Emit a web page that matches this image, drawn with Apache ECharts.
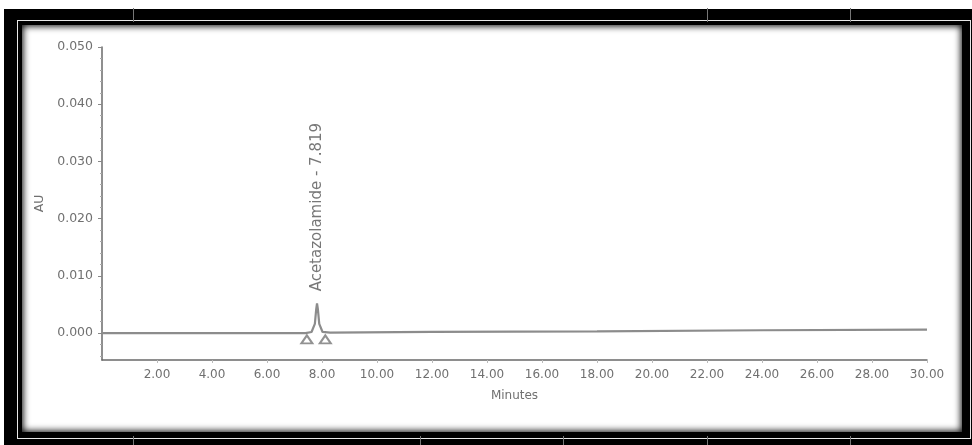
<!DOCTYPE html>
<html>
<head>
<meta charset="utf-8">
<script src="https://cdn.jsdelivr.net/npm/echarts@6/dist/echarts.min.js"></script>
<style>
  html, body { margin: 0; padding: 0; background: #fff; }
  #wrap { position: relative; width: 972px; height: 445px; overflow: hidden; }
  .outer { position: absolute; left: 4px; top: 9px; width: 968px; height: 436px; background: #000; }
  .wline { position: absolute; left: 17px; top: 20px; width: 954px; height: 419px; box-sizing: border-box; border: 1px solid #e8e8e8; }
  .panel { position: absolute; left: 22px; top: 25px; width: 940px; height: 407px; background: #fff;
           box-shadow: inset 0 0 7px 1px #000; }
  .vl { position: absolute; width: 1px; background: #777; }
  #chart { position: absolute; left: 0; top: 0; width: 972px; height: 445px; }
</style>
</head>
<body>
<div id="wrap">
  <div class="outer"></div>
  <div class="wline"></div>
  <div class="panel"></div>
  <div class="vl" style="left:133px;top:8px;height:14px"></div>
  <div class="vl" style="left:707px;top:8px;height:14px"></div>
  <div class="vl" style="left:850px;top:8px;height:14px"></div>
  <div class="vl" style="left:133px;top:436px;height:9px"></div>
  <div class="vl" style="left:420px;top:436px;height:9px"></div>
  <div class="vl" style="left:563px;top:436px;height:9px"></div>
  <div class="vl" style="left:707px;top:436px;height:9px"></div>
  <div class="vl" style="left:850px;top:436px;height:9px"></div>
  <div id="chart"></div>
</div>
<script>
// ---- data ----
var traceMinutes = [0, 3, 7.4, 7.62, 7.74, 7.79, 7.819, 7.85, 7.9, 8.02, 8.3, 12, 18, 24, 30];
var traceAU      = [0, 0, 0, 0.0002, 0.0016, 0.0042, 0.0052, 0.0042, 0.0016, 0.0002, 0.0001, 0.0002, 0.0003, 0.0005, 0.0006];
var peakName = "Acetazolamide";
var peakRT = 7.819;
var peakHeight = 0.0052;
var markerMinutes = [7.45, 8.12];
var markerAU = [-0.0011, -0.0011];
var yTicks = [0, 0.01, 0.02, 0.03, 0.04, 0.05];
var yMinorTicks = [-0.004, -0.002, 0.002, 0.004, 0.006, 0.008, 0.012, 0.014, 0.016, 0.018, 0.022, 0.024, 0.026, 0.028, 0.032, 0.034, 0.036, 0.038, 0.042, 0.044, 0.046, 0.048];
var xTicks = [2, 4, 6, 8, 10, 12, 14, 16, 18, 20, 22, 24, 26, 28, 30];

var trace = traceMinutes.map(function (m, i) { return [m, traceAU[i]]; });
var markers = markerMinutes.map(function (m, i) { return [m, markerAU[i]]; });

var chart = echarts.init(document.getElementById('chart'), null, { renderer: 'canvas' });
var font = 'DejaVu Sans';
var txt = '#707070';
chart.setOption({
  backgroundColor: 'transparent',
  animation: false,
  grid: { left: 102, right: 45, top: 47, bottom: 85 },
  xAxis: {
    type: 'value', min: 0, max: 30,
    name: 'Minutes', nameLocation: 'middle', nameGap: 30,
    nameTextStyle: { color: txt, fontSize: 12, fontFamily: font },
    axisLine: { show: true, onZero: false, lineStyle: { color: '#6a6a6a', width: 1.5 } },
    axisTick: { show: true, customValues: xTicks, length: 3, lineStyle: { color: '#bbb' } },
    axisLabel: { customValues: xTicks, color: txt, fontSize: 12, fontFamily: font, margin: 9,
                 formatter: function (v) { return v.toFixed(2); } },
    splitLine: { show: false }
  },
  yAxis: [{
    type: 'value', min: -0.0047, max: 0.05,
    name: 'AU', nameLocation: 'middle', nameGap: 53, nameRotate: 90,
    nameTextStyle: { color: txt, fontSize: 12.5, fontFamily: font },
    axisLine: { show: true, onZero: false, lineStyle: { color: '#6a6a6a', width: 1.5 } },
    axisTick: { show: true, customValues: yTicks, length: 4, lineStyle: { color: '#888' } },
    axisLabel: { customValues: yTicks, color: txt, fontSize: 12.5, fontFamily: font, margin: 9,
                 formatter: function (v) { return v.toFixed(3); } },
    splitLine: { show: false }
  }, {
    type: 'value', min: -0.0047, max: 0.05, position: 'left',
    axisLine: { show: false },
    axisTick: { show: true, customValues: yMinorTicks, length: 2, lineStyle: { color: '#aaa' } },
    axisLabel: { show: false },
    splitLine: { show: false }
  }],
  series: [{
    type: 'line',
    data: trace,
    symbol: 'none',
    lineStyle: { color: '#8c8c8c', width: 2.2 },
    z: 3
  }, {
    type: 'scatter',
    data: markers,
    symbol: 'emptyTriangle',
    symbolSize: [11, 8],
    itemStyle: { color: '#777', borderColor: '#777', borderWidth: 1.2 },
    z: 4
  }, {
    type: 'scatter',
    data: [[peakRT, peakHeight]],
    symbolSize: 0,
    label: {
      show: true, position: 'top', distance: 12, rotate: 90,
      formatter: peakName + ' - ' + peakRT.toFixed(3),
      color: '#555', fontSize: 15, fontFamily: font, align: 'left', verticalAlign: 'middle'
    },
    z: 5
  }]
});
</script>
</body>
</html>
